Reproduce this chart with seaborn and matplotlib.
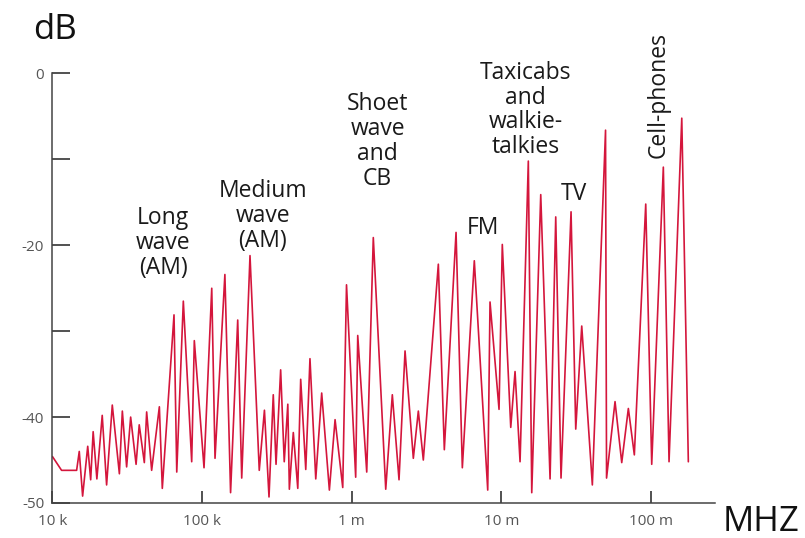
import numpy as np
import pandas as pd
import seaborn as sns
import matplotlib.pyplot as plt
from matplotlib.ticker import NullLocator

# --- dados ---
freq_khz = [10, 11.5, 14.5, 15.1, 15.9, 17.2, 18.0, 18.7, 19.8, 21.5,
            23.0, 25.1, 28.0, 29.3, 31.3, 33.3, 36.2, 38.0, 41.1, 42.6,
            46.0, 51.8, 54.2, 64.9, 67.7, 74.9, 85.2, 88.7, 103, 116,
            122, 142, 155, 173, 184, 209, 241, 261, 280, 299,
            312, 335, 354, 374, 383, 407, 436, 456, 493, 526,
            575, 630, 709, 774, 871, 923, 1063, 1097, 1260, 1394,
            1688, 1868, 2071, 2272, 2581, 2788, 3010, 3793, 4159, 4981,
            5487, 6598, 8111, 8403, 9652, 10150, 11560, 12350, 13340, 15150,
            15970, 18340, 21170, 23100, 25060, 29240, 31430, 34470, 40580, 49720,
            50500, 57540, 63790, 70630, 77450, 92300, 101200, 121000, 132100, 160700,
            177800]
level_db = [-44.6, -46.2, -46.2, -44.0, -49.2, -43.4, -47.3, -41.7, -47.2, -39.8,
            -47.9, -38.6, -46.6, -39.3, -45.8, -40.0, -45.5, -40.9, -45.3, -39.4,
            -46.2, -38.8, -48.3, -28.1, -46.4, -26.5, -45.2, -31.1, -45.9, -25.0,
            -44.8, -23.4, -48.8, -28.7, -47.1, -21.2, -46.2, -39.2, -49.3, -37.4,
            -45.5, -34.5, -45.2, -38.5, -48.4, -41.8, -48.3, -35.6, -46.1, -33.2,
            -47.2, -37.2, -48.5, -40.3, -48.2, -24.6, -47.0, -30.5, -46.4, -19.1,
            -48.4, -37.4, -47.3, -32.3, -44.8, -39.3, -45.0, -22.2, -43.8, -18.5,
            -45.9, -21.8, -48.5, -26.6, -39.1, -19.9, -41.2, -34.7, -45.2, -10.2,
            -48.8, -14.1, -47.2, -16.7, -47.1, -16.1, -41.4, -29.4, -47.9, -6.6,
            -47.1, -38.2, -45.3, -39.0, -44.4, -15.2, -45.5, -10.9, -45.2, -5.2,
            -45.2]

x_ticks = [1e4, 1e5, 1e6, 1e7, 1e8]
x_tick_labels = ["10 k", "100 k", "1 m", "10 m", "100 m"]
y_ticks = [0, -10, -20, -30, -40, -50]
y_tick_labels = ["0", "", "-20", "", "-40", "-50"]

# rótulos das faixas: texto, frequência (Hz), nível (dB)
band_labels = ["Long\nwave\n(AM)", "Medium\nwave\n(AM)", "Shoet\nwave\nand\nCB",
               "FM", "Taxicabs\nand\nwalkie-\ntalkies", "TV"]
band_freq = [5.48e4, 2.55e5, 1.49e6, 7.55e6, 1.45e7, 3.06e7]
band_db = [-19.7, -16.6, -7.9, -18.0, -4.25, -14.0]

df = pd.DataFrame({"freq": np.array(freq_khz) * 1000, "db": level_db})

# --- figura ---
sns.set_theme(style="white")
plt.rcParams["font.family"] = ["Open Sans", "DejaVu Sans"]

fig = plt.figure(figsize=(8.05, 5.38), dpi=100)
ax = fig.add_axes([0.0652, 0.0651, 0.8230, 0.7983])

sns.lineplot(data=df, x="freq", y="db", sort=False, estimator=None,
             color="#d4163c", linewidth=1.2, ax=ax)

ax.set_xscale("log")
ax.set_xlim(1e4, 2.68e8)
ax.set_ylim(-50, 0)
ax.set_xticks(x_ticks)
ax.set_xticklabels(x_tick_labels)
ax.xaxis.set_minor_locator(NullLocator())
ax.set_yticks(y_ticks)
ax.set_yticklabels(y_tick_labels)
ax.set_xlabel("")
ax.set_ylabel("")

sns.despine(ax=ax)
for s in ["left", "bottom"]:
    ax.spines[s].set_color("#444444")
    ax.spines[s].set_linewidth(1.1)

ax.tick_params(axis="y", direction="in", length=13, width=1.1, color="#222222",
               pad=6, labelsize=11, labelcolor="#555555", left=True)
ax.tick_params(axis="x", direction="in", length=8.5, width=1.1, color="#222222",
               pad=8, labelsize=11, labelcolor="#555555", bottom=True)

for txt, fx, fy in zip(band_labels, band_freq, band_db):
    ax.text(fx, fy, txt, ha="center", va="center", fontsize=16.5,
            linespacing=1.05, color="#1a1a1a")
ax.text(1.13e8, -2.5, "Cell-phones", rotation=90, ha="center", va="center",
        fontsize=16.5, color="#1a1a1a")

fig.text(0.068, 0.944, "dB", ha="center", va="center", fontsize=25, color="#111111")
fig.text(0.945, 0.030, "MHZ", ha="center", va="center", fontsize=25, color="#111111")

fig.savefig("out.png", dpi=100)
